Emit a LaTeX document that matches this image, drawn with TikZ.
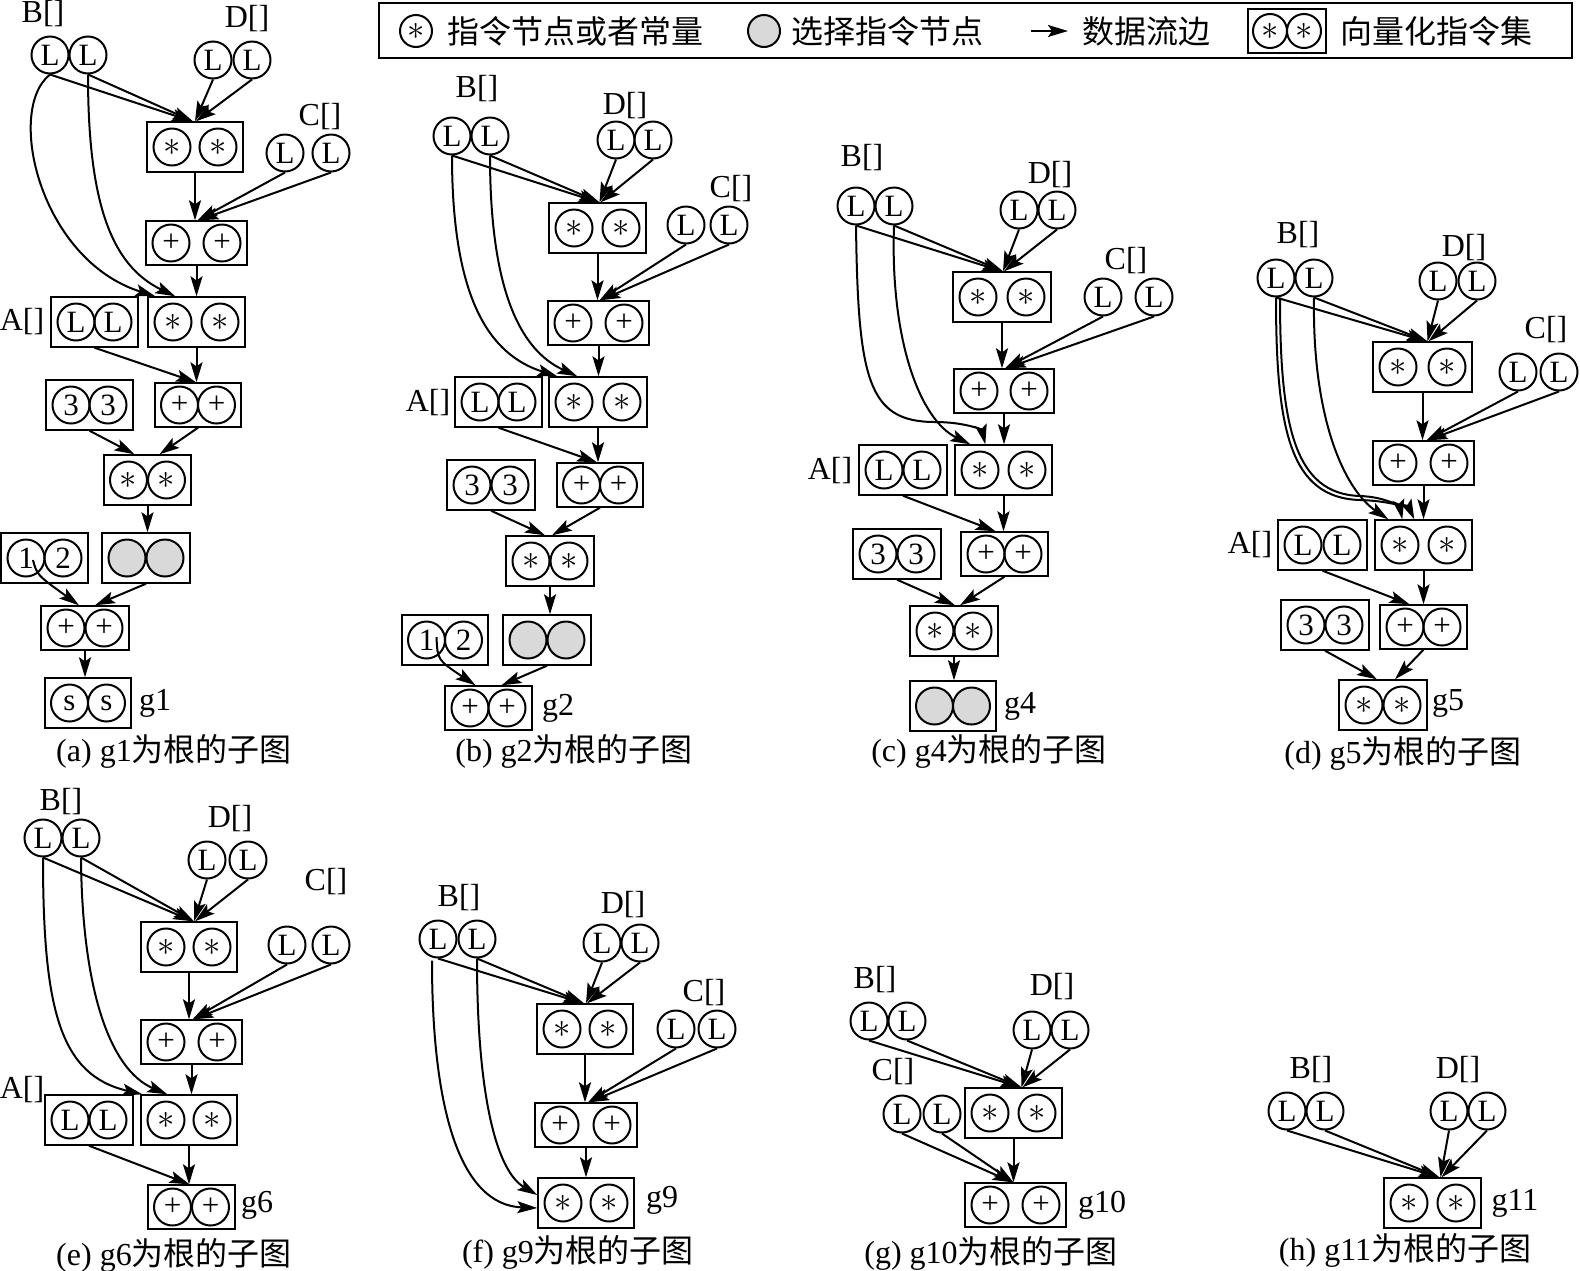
\documentclass[tikz,border=0pt]{standalone}
\usepackage{fontspec}
\setmainfont{Liberation Serif}
\newfontfamily\cjk{Noto Sans CJK SC}
\usetikzlibrary{fit,calc,arrows.meta}
\definecolor{selgray}{gray}{0.85}
\newcommand{\myast}{{\fontsize{18}{18}\selectfont$\ast$}}
\newcommand{\cpair}[7][]{%
  \node[cn] (#2l) at ({#3-#5/2},#4) {#6};
  \node[cn] (#2r) at ({#3+#5/2},#4) {#7};
  \node[vb,#1,fit=(#2l)(#2r)] (#2) {};}
\newcommand{\gpair}[4]{%
  \node[cn,fill=selgray] (#1l) at ({#2-#4/2},#3) {};
  \node[cn,fill=selgray] (#1r) at ({#2+#4/2},#3) {};
  \node[vb,fit=(#1l)(#1r)] (#1) {};}
\newcommand{\mpair}[4]{\cpair{#1}{#2}{#3}{#4}{\myast}{\myast}}
\newcommand{\ppair}[4]{\cpair[pb]{#1}{#2}{#3}{#4}{+}{+}}
\tikzset{
 cn/.style={circle, draw, line width=1pt, minimum size=18.5pt, inner sep=0pt, font=\fontsize{15.5}{15.5}\selectfont},
 vb/.style={rectangle, draw, line width=1pt, inner xsep=2.6pt, inner ysep=2.6pt},
 pb/.style={inner ysep=1.1pt},
 flow/.style={line width=1pt, -{Stealth[length=10pt,width=6pt,inset=2pt]}},
 lab/.style={font=\fontsize{16}{16}\selectfont, inner sep=0pt},
 capt/.style={font=\fontsize{16}{16}\selectfont, inner sep=0pt},
 lt/.style={anchor=west, font=\cjk\fontsize{16}{16}\selectfont, inner sep=0pt},
}
\begin{document}
\begin{tikzpicture}[x=0.5pt,y=-0.5pt]
\useasboundingbox (0,0) rectangle (1580,1270);
% ---------------- legend
\draw[line width=1pt] (379,3) rectangle (1572,58);
\node[cn, minimum size=16pt] (lg1) at (416,31) {\myast};
\node[lt] (lt1) at (447,31) {指令节点或者常量};
\node[cn, minimum size=16pt, fill=selgray] (lg2) at (764,31) {};
\node[lt] (lt2) at (791,31) {选择指令节点};
\coordinate (la1) at (1031,31); \coordinate (la2) at (1068,31);
\draw[flow] (la1) -- (la2);
\node[lt] (lt3) at (1082,31) {数据流边};
\node[cn, minimum size=17pt] (lv1) at (1270,31) {\myast};
\node[cn, minimum size=17pt] (lv2) at (1304,31) {\myast};
\node[vb, inner sep=2pt, fit=(lv1)(lv2)] (lv) {};
\node[lt] (lt4) at (1340,31) {向量化指令集};
% ---------------- (a)
\node[lab] (aBl) at (43,14) {B[]};
\node[cn] (aB1) at (50,55) {L};
\node[cn] (aB2) at (88,55) {L};
\node[lab] (aDl) at (247,19) {D[]};
\node[cn] (aD1) at (213,60) {L};
\node[cn] (aD2) at (252,60) {L};
\node[lab] (aCl) at (320,117) {C[]};
\node[cn] (aC1) at (285,153) {L};
\node[cn] (aC2) at (331,153) {L};
\mpair{aM1}{195}{147}{46}
\ppair{aP1}{196.5}{243}{51}
\node[lab] (aAl) at (22,322) {A[]};
\cpair{aAa}{94.5}{322}{37}{L}{L}
\mpair{aM2}{196.5}{322}{47}
\cpair{aK3}{89.5}{405}{37}{3}{3}
\ppair{aP2}{198}{405}{37}
\mpair{aM3}{147.5}{480}{38}
\cpair{aK12}{44.5}{558}{37}{1}{2}
\gpair{aS}{146}{558}{38}
\ppair{aP3}{85}{628}{38}
\cpair{aSS}{88}{703}{37}{s}{s}
\node[lab] (ag) at (155,703) {g1};
\node[capt] (acap) at (174,751) {(a) g1{\cjk 为根的子图}};
\draw[flow] (aB1.south) -- ($(aM1.north)+(-3,0)$);
\draw[flow] (aB2.south) -- ($(aM1.north)+(-2,0)$);
\draw[flow] (aD1.south) -- ($(aM1.north)+(0,0)$);
\draw[flow] (aD2.south) -- ($(aM1.north)+(1,0)$);
\draw[flow] (aM1.south) -- (aM1.south |- aP1.north);
\draw[flow] (aC1.south) -- ($(aP1.north)+(1,0)$);
\draw[flow] (aC2.south) -- ($(aP1.north)+(2,0)$);
\draw[flow] (aP1.south) -- (aP1.south |- aM2.north);
\draw[flow] (aB1.south) .. controls (5,110) and (40,260) .. ($(aM2.north west)+(8,0)$);
\draw[flow] (aB2.south) .. controls (88,200) and (110,265) .. ($(aM2.north west)+(28,0)$);
\draw[flow] (aAa.south) -- ($(aP2.north)+(-2,0)$);
\draw[flow] (aM2.south) -- (aM2.south |- aP2.north);
\draw[flow] (aK3.south) -- ($(aM3.north)+(-13,0)$);
\draw[flow] (aP2.south) -- ($(aM3.north)+(12,0)$);
\draw[flow] (aM3.south) -- (aM3.south |- aS.north);
\draw[flow] ($(aK12l.center)+(7,2)$) .. controls ($(aK12l.center)+(11,17)$) .. ($(aP3.north)+(-6,0)$);
\draw[flow] (aS.south) -- ($(aP3.north)+(10,0)$);
\draw[flow] (aP3.south) -- (aP3.south |- aSS.north);
% ---------------- (b)
\node[lab] (bBl) at (477,89) {B[]};
\node[cn] (bB1) at (452,136) {L};
\node[cn] (bB2) at (490,136) {L};
\node[lab] (bDl) at (625,106) {D[]};
\node[cn] (bD1) at (616,140) {L};
\node[cn] (bD2) at (653,140) {L};
\node[lab] (bCl) at (731,189) {C[]};
\node[cn] (bC1) at (686,225) {L};
\node[cn] (bC2) at (729,225) {L};
\mpair{bM1}{597.5}{228}{47}
\ppair{bP1}{598.5}{323}{51}
\node[lab] (bAl) at (428,403) {A[]};
\cpair{bAa}{498.5}{402}{37}{L}{L}
\mpair{bM2}{598}{402}{48}
\cpair{bK3}{491}{485}{38}{3}{3}
\ppair{bP2}{600}{485}{37}
\mpair{bM3}{550}{561}{38}
\cpair{bK12}{445}{640}{37}{1}{2}
\gpair{bS}{547}{640}{38}
\ppair{bP3}{488.5}{708}{37}
\node[lab] (bg) at (558,708) {g2};
\node[capt] (bcap) at (574,751) {(b) g2{\cjk 为根的子图}};
\draw[flow] (bB1.south) -- ($(bM1.north)+(1,0)$);
\draw[flow] (bB2.south) -- ($(bM1.north)+(2,0)$);
\draw[flow] (bD1.south) -- ($(bM1.north)+(2,0)$);
\draw[flow] (bD2.south) -- ($(bM1.north)+(3,0)$);
\draw[flow] (bM1.south) -- (bM1.south |- bP1.north);
\draw[flow] (bC1.south) -- ($(bP1.north)+(1,0)$);
\draw[flow] (bC2.south) -- ($(bP1.north)+(2,0)$);
\draw[flow] (bP1.south) -- (bP1.south |- bM2.north);
\draw[flow] (bB1.south) .. controls (452,300) and (490,355) .. ($(bM2.north west)+(9,0)$);
\draw[flow] (bB2.south) .. controls (490,290) and (520,350) .. ($(bM2.north west)+(29,0)$);
\draw[flow] (bAa.south) -- ($(bP2.north)+(-3,0)$);
\draw[flow] (bM2.south) -- (bM2.south |- bP2.north);
\draw[flow] (bK3.south) -- ($(bM3.north)+(-5,0)$);
\draw[flow] (bP2.south) -- ($(bM3.north)+(2,0)$);
\draw[flow] (bM3.south) -- (bM3.south |- bS.north);
\draw[flow] ($(bK12l.center)+(10,-3)$) .. controls ($(bK12l.center)+(11,20)$) .. ($(bP3.north)+(-13,0)$);
\draw[flow] (bS.south) -- ($(bP3.north)+(13,0)$);
% ---------------- (c)
\node[lab] (cBl) at (862,158) {B[]};
\node[cn] (cB1) at (856,206) {L};
\node[cn] (cB2) at (894,206) {L};
\node[lab] (cDl) at (1050,175) {D[]};
\node[cn] (cD1) at (1019,210) {L};
\node[cn] (cD2) at (1057,210) {L};
\node[lab] (cCl) at (1126,261) {C[]};
\node[cn] (cC1) at (1103,297) {L};
\node[cn] (cC2) at (1154,297) {L};
\mpair{cM1}{1002}{297}{48}
\ppair{cP1}{1004}{391}{50}
\node[lab] (cAl) at (830,471) {A[]};
\cpair{cAa}{903}{470}{38}{L}{L}
\mpair{cM2}{1003.5}{470}{47}
\cpair{cK3}{897}{554}{38}{3}{3}
\ppair{cP2}{1004.5}{554}{37}
\mpair{cM3}{954}{631}{38}
\gpair{cS}{953}{706}{37}
\node[lab] (cg) at (1020,706) {g4};
\node[capt] (ccap) at (989,751) {(c) g4{\cjk 为根的子图}};
\draw[flow] (cB1.south) -- ($(cM1.north)+(0,0)$);
\draw[flow] (cB2.south) -- ($(cM1.north)+(1,0)$);
\draw[flow] (cD1.south) -- ($(cM1.north)+(1,0)$);
\draw[flow] (cD2.south) -- ($(cM1.north)+(2,0)$);
\draw[flow] (cM1.south) -- (cM1.south |- cP1.north);
\draw[flow] (cC1.south) -- ($(cP1.north)+(1,0)$);
\draw[flow] (cC2.south) -- ($(cP1.north)+(2,0)$);
\draw[flow] (cP1.south) -- (cP1.south |- cM2.north);
\draw[flow] (cB1.south) .. controls (858,380) and (868,422) .. (935,422) .. controls (965,422) and (982,430) .. ($(cM2.north west)+(31,0)$);
\draw[flow] (cB2.south) .. controls (890,340) and (920,420) .. ($(cM2.north west)+(16,0)$);
\draw[flow] (cAa.south) -- ($(cP2.north)+(-9,0)$);
\draw[flow] (cM2.south) -- (cM2.south |- cP2.north);
\draw[flow] (cK3.south) -- ($(cM3.north)+(1,0)$);
\draw[flow] (cP2.south) -- ($(cM3.north)+(6,0)$);
\draw[flow] (cM3.south) -- (cM3.south |- cS.north);
% ---------------- (d)
\node[lab] (dBl) at (1298,235) {B[]};
\node[cn] (dB1) at (1276,278) {L};
\node[cn] (dB2) at (1314,278) {L};
\node[lab] (dDl) at (1464,248) {D[]};
\node[cn] (dD1) at (1438,281) {L};
\node[cn] (dD2) at (1477,281) {L};
\node[lab] (dCl) at (1546,330) {C[]};
\node[cn] (dC1) at (1518,372) {L};
\node[cn] (dC2) at (1559,372) {L};
\mpair{dM1}{1422.5}{367}{49}
\ppair{dP1}{1423.5}{463}{51}
\node[lab] (dAl) at (1250,545) {A[]};
\cpair{dAa}{1322.5}{545}{39}{L}{L}
\mpair{dM2}{1423.5}{545}{47}
\cpair{dK3}{1325}{625}{38}{3}{3}
\ppair{dP2}{1423.5}{627}{37}
\mpair{dM3}{1383}{705}{38}
\node[lab] (dg) at (1448,703) {g5};
\node[capt] (dcap) at (1403,753) {(d) g5{\cjk 为根的子图}};
\draw[flow] (dB1.south) -- ($(dM1.north)+(4,0)$);
\draw[flow] (dB2.south) -- ($(dM1.north)+(5,0)$);
\draw[flow] (dD1.south) -- ($(dM1.north)+(5,0)$);
\draw[flow] (dD2.south) -- ($(dM1.north)+(6,0)$);
\draw[flow] (dM1.south) -- (dM1.south |- dP1.north);
\draw[flow] (dC1.south) -- ($(dP1.north)+(3,0)$);
\draw[flow] (dC2.south) -- ($(dP1.north)+(4,0)$);
\draw[flow] (dP1.south) -- (dP1.south |- dM2.north);
\draw[flow] (dB1.south) .. controls (1276,430) and (1290,498) .. (1360,500) .. controls (1395,501) and (1410,510) .. ($(dM2.north west)+(40,0)$);
\draw[flow] ($(dB1.south)+(4,0)$) .. controls (1280,425) and (1294,494) .. (1360,496) .. controls (1388,497) and (1400,508) .. ($(dM2.north west)+(28,0)$);
\draw[flow] (dB2.south) .. controls (1312,420) and (1345,490) .. ($(dM2.north west)+(14,0)$);
\draw[flow] (dAa.south) -- ($(dP2.north)+(-14,0)$);
\draw[flow] (dM2.south) -- (dM2.south |- dP2.north);
\draw[flow] (dK3.south) -- ($(dM3.north)+(-6,0)$);
\draw[flow] (dP2.south) -- ($(dM3.north)+(12,0)$);
% ---------------- (e)
\node[lab] (eBl) at (61,802) {B[]};
\node[cn] (eB1) at (43,838) {L};
\node[cn] (eB2) at (81,838) {L};
\node[lab] (eDl) at (230,819) {D[]};
\node[cn] (eD1) at (207,860) {L};
\node[cn] (eD2) at (248,860) {L};
\node[lab] (eCl) at (326,882) {C[]};
\node[cn] (eC1) at (287,945) {L};
\node[cn] (eC2) at (331,945) {L};
\mpair{eM1}{189}{947}{46}
\ppair{eP1}{191.5}{1042}{51}
\node[lab] (eAl) at (22,1090) {A[]};
\cpair{eAa}{89}{1120}{38}{L}{L}
\mpair{eM2}{189}{1120}{46}
\ppair{eP2}{191.5}{1207}{38}
\node[lab] (eg) at (257,1205) {g6};
\node[capt] (ecap) at (174,1255) {(e) g6{\cjk 为根的子图}};
\draw[flow] (eB1.south) -- ($(eM1.north)+(4,0)$);
\draw[flow] (eB2.south) -- ($(eM1.north)+(5,0)$);
\draw[flow] (eD1.south) -- ($(eM1.north)+(5,0)$);
\draw[flow] (eD2.south) -- ($(eM1.north)+(6,0)$);
\draw[flow] (eM1.south) -- (eM1.south |- eP1.north);
\draw[flow] (eC1.south) -- ($(eP1.north)+(1,0)$);
\draw[flow] (eC2.south) -- ($(eP1.north)+(2,0)$);
\draw[flow] (eP1.south) -- (eP1.south |- eM2.north);
\draw[flow] (eB1.south) .. controls (43,1010) and (60,1075) .. ($(eM2.north west)+(2,0)$);
\draw[flow] (eB2.south) .. controls (82,990) and (110,1070) .. ($(eM2.north west)+(27,0)$);
\draw[flow] (eAa.south) -- ($(eP2.north)+(-2,0)$);
\draw[flow] (eM2.south) -- (eM2.south |- eP2.north);
% ---------------- (f)
\node[lab] (fBl) at (459,898) {B[]};
\node[cn] (fB1) at (438,939) {L};
\node[cn] (fB2) at (477,939) {L};
\node[lab] (fDl) at (623,905) {D[]};
\node[cn] (fD1) at (602,943) {L};
\node[cn] (fD2) at (640,943) {L};
\node[lab] (fCl) at (704,993) {C[]};
\node[cn] (fC1) at (676,1029) {L};
\node[cn] (fC2) at (717,1029) {L};
\mpair{fM1}{585}{1029}{46}
\ppair{fP1}{586}{1125}{52}
\mpair{fM2}{586}{1203}{46}
\node[lab] (fg) at (662,1200) {g9};
\node[capt] (fcap) at (578,1252) {(f) g9{\cjk 为根的子图}};
\draw[flow] (fB1.south) -- ($(fM1.north)+(-2,0)$);
\draw[flow] (fB2.south) -- ($(fM1.north)+(-1,0)$);
\draw[flow] (fD1.south) -- ($(fM1.north)+(1,0)$);
\draw[flow] (fD2.south) -- ($(fM1.north)+(2,0)$);
\draw[flow] (fM1.south) -- (fM1.south |- fP1.north);
\draw[flow] (fC1.south) -- ($(fP1.north)+(2,0)$);
\draw[flow] (fC2.south) -- ($(fP1.north)+(3,0)$);
\draw[flow] (fP1.south) -- (fP1.south |- fM2.north);
\draw[flow] ($(fB1.south)+(-6,2)$) .. controls (432,1110) and (460,1205) .. ($(fM2.west)+(0,5)$);
\draw[flow] (fB2.south) .. controls (477,1090) and (495,1170) .. ($(fM2.west)+(0,-8)$);
% ---------------- (g)
\node[lab] (gBl) at (875,980) {B[]};
\node[cn] (gB1) at (869,1021) {L};
\node[cn] (gB2) at (907,1021) {L};
\node[lab] (gDl) at (1052,987) {D[]};
\node[cn] (gD1) at (1032,1030) {L};
\node[cn] (gD2) at (1070,1030) {L};
\node[lab] (gCl) at (893,1072) {C[]};
\node[cn] (gC1) at (902,1114) {L};
\node[cn] (gC2) at (942,1114) {L};
\mpair{gM1}{1013.5}{1113}{47}
\ppair{gP1}{1015.5}{1205}{51}
\node[lab] (gg) at (1102,1205) {g10};
\node[capt] (gcap) at (991,1253) {(g) g10{\cjk 为根的子图}};
\draw[flow] (gB1.south) -- ($(gM1.north)+(7,0)$);
\draw[flow] (gB2.south) -- ($(gM1.north)+(8,0)$);
\draw[flow] (gD1.south) -- ($(gM1.north)+(8,0)$);
\draw[flow] (gD2.south) -- ($(gM1.north)+(9,0)$);
\draw[flow] (gM1.south) -- (gM1.south |- gP1.north);
\draw[flow] (gC1.south) -- ($(gP1.north)+(-3,0)$);
\draw[flow] (gC2.south) -- ($(gP1.north)+(-2,0)$);
% ---------------- (h)
\node[lab] (hBl) at (1311,1070) {B[]};
\node[cn] (hB1) at (1287,1111) {L};
\node[cn] (hB2) at (1325,1111) {L};
\node[lab] (hDl) at (1458,1070) {D[]};
\node[cn] (hD1) at (1449,1111) {L};
\node[cn] (hD2) at (1487,1111) {L};
\mpair{hM1}{1432.5}{1203}{47}
\node[lab] (hg) at (1515,1203) {g11};
\node[capt] (hcap) at (1405,1250) {(h) g11{\cjk 为根的子图}};
\draw[flow] (hB1.south) -- ($(hM1.north)+(6,0)$);
\draw[flow] (hB2.south) -- ($(hM1.north)+(7,0)$);
\draw[flow] (hD1.south) -- ($(hM1.north)+(8,0)$);
\draw[flow] (hD2.south) -- ($(hM1.north)+(9,0)$);
\end{tikzpicture}
\end{document}
